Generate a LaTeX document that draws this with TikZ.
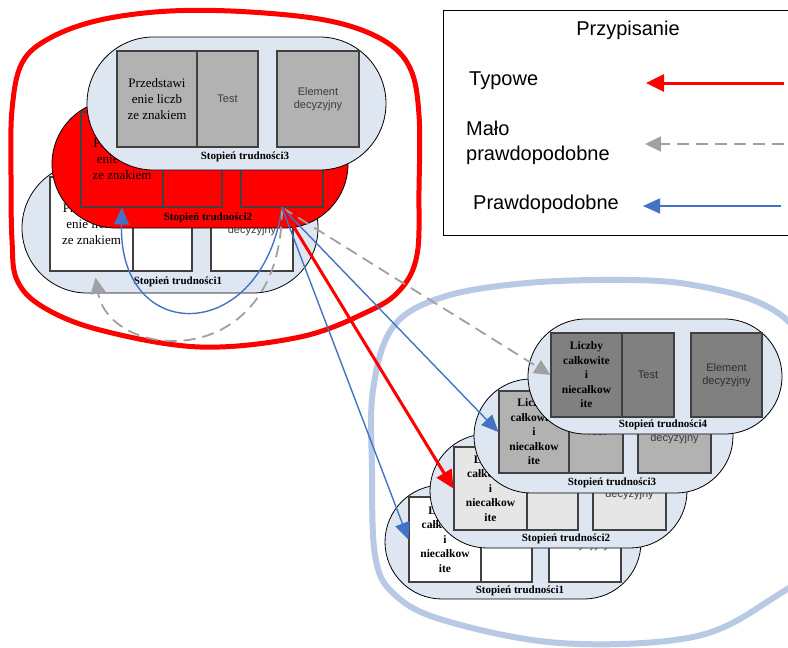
\documentclass[tikz,border=0pt]{standalone}
\usepackage{fontspec}
\setmainfont{Liberation Serif}
\newfontfamily\sansf{Liberation Sans}
\usetikzlibrary{shapes.misc,arrows.meta,calc}

\definecolor{pillfill}{RGB}{222,230,242}
\definecolor{ringblue}{RGB}{183,201,229}
\definecolor{linkblue}{RGB}{68,114,196}
\definecolor{linkgray}{RGB}{160,160,160}
\definecolor{cellline}{RGB}{64,64,64}
\definecolor{gdark}{RGB}{128,128,128}
\definecolor{gmid}{RGB}{178,178,178}
\definecolor{glight}{RGB}{230,230,230}
\definecolor{celltext}{RGB}{60,60,60}
\definecolor{celltextdark}{RGB}{45,45,45}

\tikzset{
  pill/.style={rounded rectangle, draw=black, line width=0.8pt, fill=pillfill, inner sep=0pt},
  cell/.style={draw=cellline, line width=1.1pt, inner sep=0pt, align=center},
  topic/.style={font=\fontsize{13}{16}\selectfont},
  topicb/.style={font=\fontsize{11.5}{14.5}\selectfont\bfseries},
  plain/.style={font=\sansf\fontsize{11}{13}\selectfont, text=celltext},
  lvl/.style={font=\fontsize{11}{11}\selectfont\bfseries, inner sep=0pt},
  legtext/.style={font=\sansf\fontsize{20}{25}\selectfont, inner sep=0pt},
  typ/.style={draw=red, line width=3pt, -{Triangle[length=18pt,width=17pt]}},
  malo/.style={draw=linkgray, line width=1.8pt, dash pattern=on 12pt off 7pt, -{Triangle[length=16pt,width=15pt]}},
  praw/.style={draw=linkblue, line width=1.4pt, -{Triangle[length=17pt,width=15pt]}},
}

\begin{document}
\begin{tikzpicture}[x=1pt,y=-1pt]
\useasboundingbox[fill=white] (0,0) rectangle (788,648);

% group outlines
\draw[red, line width=5pt] plot[smooth cycle, tension=0.6] coordinates {
  (12,110) (22,63) (50,38) (100,20) (170,11) (250,12) (330,21) (383,40) (410,68)
  (419,115) (419,190) (417,255) (400,290) (367,312) (300,337) (200,347) (100,330)
  (43,307) (17,280) (12,240) (11,175)};
\draw[ringblue, line width=6pt] plot[smooth cycle, tension=0.6] coordinates {
  (393,327) (443,297) (527,283) (627,280) (693,285) (760,303) (800,335) (830,400)
  (835,480) (815,560) (770,600) (693,637) (560,643) (443,620) (393,593) (375,555) (372,470) (373,390)};

% left group, level 1
\node[pill, minimum width=296pt, minimum height=130pt] (L1) at (170,228) {};
\node[cell, fill=white, minimum width=83pt, minimum height=94pt, topic] (L1a) at (91.5,224) {Przedstawi\\enie liczb\\ze znakiem};
\node[cell, fill=white, minimum width=59pt, minimum height=94pt, plain] (L1b) at (162.5,224) {Test};
\node[cell, fill=white, minimum width=82pt, minimum height=94pt, plain] (L1c) at (252,224) {Element\\decyzyjny};
\node[lvl] (L1t) at (178,282) {Stopień trudności1};

% left group, level 2
\node[pill, fill=red, minimum width=296pt, minimum height=128pt] (L2) at (200,164) {};
\node[cell, fill=red, minimum width=82pt, minimum height=95pt, topic] (L2a) at (122,159.5) {Przedstawi\\enie liczb\\ze znakiem};
\node[cell, fill=red, minimum width=59pt, minimum height=95pt, plain] (L2b) at (192.5,159.5) {Test};
\node[cell, fill=red, minimum width=82pt, minimum height=95pt, plain] (L2c) at (282,159.5) {Element\\decyzyjny};
\node[lvl] (L2t) at (208,218) {Stopień trudności2};

% left group, level 3
\node[pill, minimum width=299pt, minimum height=133pt] (L3) at (236.5,103.5) {};
\node[cell, fill=gmid, minimum width=80pt, minimum height=96pt, topic] (L3a) at (157,99) {Przedstawi\\enie liczb\\ze znakiem};
\node[cell, fill=gmid, minimum width=61pt, minimum height=96pt, plain] (L3b) at (227.5,99) {Test};
\node[cell, fill=gmid, minimum width=82pt, minimum height=96pt, plain] (L3c) at (318,99) {Element\\decyzyjny};
\node[lvl] (L3t) at (245,157) {Stopień trudności3};

% right group, level 1
\node[pill, minimum width=256pt, minimum height=114pt] (R1) at (513,542) {};
\node[cell, fill=white, minimum width=72pt, minimum height=85pt, topicb] (R1a) at (445,539.5) {Liczby\\całkowite\\i\\niecałkow\\ite};
\node[cell, fill=white, minimum width=51pt, minimum height=85pt, plain] (R1b) at (506.5,539.5) {Test};
\node[cell, fill=white, minimum width=72pt, minimum height=85pt, plain] (R1c) at (585,539.5) {Element\\decyzyjny};
\node[lvl] (R1t) at (520,591) {Stopień trudności1};

% right group, level 2
\node[pill, minimum width=257pt, minimum height=114pt] (R2) at (558.5,491) {};
\node[cell, fill=glight, minimum width=73pt, minimum height=83pt, topicb] (R2a) at (490.5,488.5) {Liczby\\całkowite\\i\\niecałkow\\ite};
\node[cell, fill=glight, minimum width=51pt, minimum height=83pt, plain] (R2b) at (552.5,488.5) {Test};
\node[cell, fill=glight, minimum width=73pt, minimum height=83pt, plain] (R2c) at (629.5,488.5) {Element\\decyzyjny};
\node[lvl] (R2t) at (566,539) {Stopień trudności2};

% right group, level 3
\node[pill, minimum width=259pt, minimum height=114pt] (R3) at (603.5,436) {};
\node[cell, fill=gmid, minimum width=70pt, minimum height=82pt, topicb] (R3a) at (534,432) {Liczby\\całkowite\\i\\niecałkow\\ite};
\node[cell, fill=gmid, minimum width=54pt, minimum height=82pt, plain] (R3b) at (596,432) {Test};
\node[cell, fill=gmid, minimum width=73pt, minimum height=82pt, plain] (R3c) at (674.5,432) {Element\\decyzyjny};
\node[lvl] (R3t) at (612,483) {Stopień trudności3};

% right group, level 4
\node[pill, minimum width=254pt, minimum height=115pt] (R4) at (655,376.5) {};
\node[cell, fill=gdark, minimum width=71pt, minimum height=84pt, topicb] (R4a) at (586.5,375) {Liczby\\całkowite\\i\\niecałkow\\ite};
\node[cell, fill=gdark, minimum width=52pt, minimum height=84pt, plain, text=celltextdark] (R4b) at (648,375) {Test};
\node[cell, fill=gdark, minimum width=71pt, minimum height=84pt, plain, text=celltextdark] (R4c) at (726.5,375) {Element\\decyzyjny};
\node[lvl] (R4t) at (663,425) {Stopień trudności4};

% assignments
\draw[praw] (L2c.south) .. controls (262,346) and (118,346) .. (L2a.south);
\draw[malo] (L2c.south) .. controls (282,375) and (110,362) .. ($(L1a.south)+(4,6)$);
\draw[malo] (L2c.south) -- (R4a.west);
\draw[praw] (L2c.south) -- (R3a.west);
\draw[typ] (L2c.south) -- (R2a.west);
\draw[praw] (L2c.south) -- (R1a.west);

% legend
\node[draw=black, line width=1.3pt, minimum width=352pt, minimum height=225pt, anchor=north west, inner sep=0pt] (legend) at (443,10) {};
\node[legtext] (legtitle) at (628,30) {Przypisanie};
\node[legtext, anchor=west] (legA) at (469,81) {Typowe};
\node[legtext, anchor=west, align=left] (legB) at (466,143) {Mało\\prawdopodobne};
\node[legtext, anchor=west] (legC) at (473,204) {Prawdopodobne};
\coordinate (tA) at (784,83);  \coordinate (hA) at (646,83);
\coordinate (tB) at (784,144); \coordinate (hB) at (645,144);
\coordinate (tC) at (781,206); \coordinate (hC) at (643,206);
\draw[typ] (tA) -- (hA);
\draw[malo] (tB) -- (hB);
\draw[praw] (tC) -- (hC);
\end{tikzpicture}
\end{document}
